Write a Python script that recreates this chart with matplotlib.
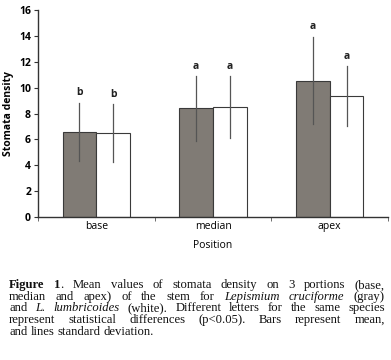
import numpy as np
import matplotlib.pyplot as plt

# data
positions = ['base', 'median', 'apex']
gray_mean = [6.6, 8.4, 10.55]   # Lepismium cruciforme
gray_sd = [2.25, 2.5, 3.4]
white_mean = [6.5, 8.5, 9.35]   # L. lumbricoides
white_sd = [2.25, 2.4, 2.3]
gray_letters = ['b', 'a', 'a']
white_letters = ['b', 'a', 'a']

W, H = 391, 360
fig = plt.figure(figsize=(W / 100, H / 100), dpi=100)
ax = fig.add_axes([38 / W, 1 - 217 / H, 350 / W, 207 / H])

sans = 'Open Sans'
x = np.arange(len(positions))
w = 0.29

ax.bar(x - w / 2, gray_mean, w, color='#807b75', edgecolor='#3a3a3a', linewidth=0.8, zorder=2)
ax.bar(x + w / 2, white_mean, w, color='white', edgecolor='#3a3a3a', linewidth=0.8, zorder=2)

# standard deviation lines (no caps)
for xs, m, s, lab in [(x - w / 2, gray_mean, gray_sd, gray_letters),
                      (x + w / 2, white_mean, white_sd, white_letters)]:
    for xi, mi, si, li in zip(xs, m, s, lab):
        ax.plot([xi, xi], [mi - si, mi + si], color='#555555', lw=0.9, zorder=3)
        ax.annotate(li, (xi, mi + si), xytext=(0, 3), textcoords='offset points',
                    ha='center', va='bottom', fontsize=7.5, fontweight='bold',
                    family=sans, color='#222222')

ax.set_xlim(-0.5, 2.5)
ax.set_ylim(0, 16)
ax.set_yticks(range(0, 17, 2))
ax.set_xticks(x)
ax.set_xticklabels(positions, family=sans, fontsize=7.5)
ax.set_xticks([-0.5, 0.5, 1.5, 2.5], minor=True)
ax.tick_params(axis='x', which='major', length=0, pad=3)
ax.tick_params(axis='x', which='minor', length=3, direction='out', color='#555555')
ax.tick_params(axis='y', length=3, direction='out', pad=2, labelsize=7.5, color='#333333')
for t in ax.get_yticklabels():
    t.set_family(sans)
    t.set_fontweight('bold')
ax.set_ylabel('Stomata density', family=sans, fontsize=7.5, fontweight='bold', labelpad=4)
ax.set_xlabel('Position', family=sans, fontsize=7.5, labelpad=6)

for sp in ['top', 'right']:
    ax.spines[sp].set_visible(False)
for sp in ['left', 'bottom']:
    ax.spines[sp].set_color('#333333')
    ax.spines[sp].set_linewidth(1.0)

# ---------------------------------------------------------------
# caption, justified, with bold / italic runs
# ---------------------------------------------------------------
caption = [
    [('Figure 1', 'b'), ('. Mean values of stomata density on 3 portions (base,', 'n')],
    [('median and apex) of the stem for ', 'n'), ('Lepismium cruciforme', 'i'), (' (gray)', 'n')],
    [('and ', 'n'), ('L. lumbricoides', 'i'), (' (white). Different letters for the same species', 'n')],
    [('represent statistical differences (p<0.05). Bars represent mean,', 'n')],
    [('and lines standard deviation.', 'n')],
]
cap_size = 9.1
cap_font = 'Liberation Serif'
x_left, x_right = 9, 385
baseline0 = 288
line_step = 11.7

renderer = fig.canvas.get_renderer()


def make_text(txt, st):
    return fig.text(0, 0, txt, fontsize=cap_size, family=cap_font,
                    weight='bold' if st == 'b' else 'normal',
                    style='italic' if st == 'i' else 'normal',
                    va='baseline', ha='left', color='#111111')


def width_px(t):
    return t.get_window_extent(renderer).width


probe1 = make_text('a a', 'n')
probe2 = make_text('aa', 'n')
space_w = width_px(probe1) - width_px(probe2)
probe1.remove()
probe2.remove()

for k, runs in enumerate(caption):
    # split runs into words, each word a list of (text, style)
    words = [[]]
    for txt, st in runs:
        pieces = txt.split(' ')
        for j, p in enumerate(pieces):
            if j > 0:
                words.append([])
            if p:
                words[-1].append((p, st))
    words = [wd for wd in words if wd]

    arts = []
    total = 0
    for wd in words:
        parts = [make_text(p, st) for p, st in wd]
        ws = [width_px(t) for t in parts]
        arts.append((parts, ws))
        total += sum(ws)

    last = k == len(caption) - 1
    if last or len(words) < 2:
        gap = space_w
    else:
        gap = (x_right - x_left - total) / (len(words) - 1)

    y = 1 - (baseline0 + k * line_step) / H
    xp = x_left
    for parts, ws in arts:
        for t, wi in zip(parts, ws):
            t.set_position((xp / W, y))
            xp += wi
        xp += gap

fig.savefig('out.png', dpi=100)
